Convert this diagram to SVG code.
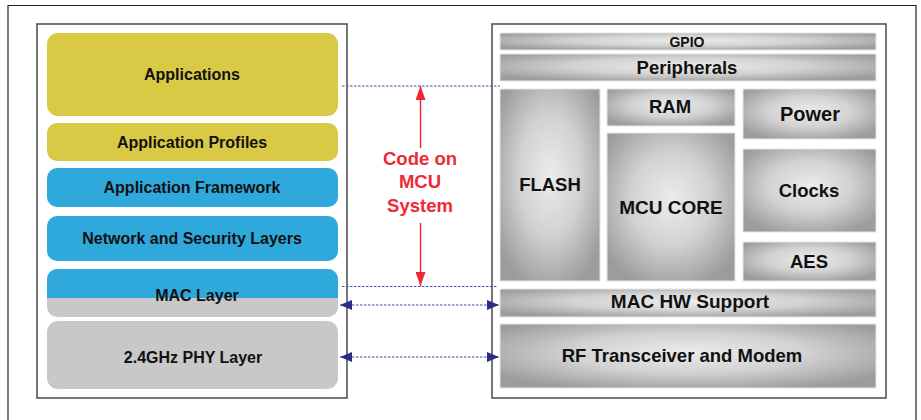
<svg xmlns="http://www.w3.org/2000/svg" width="921" height="420" viewBox="0 0 921 420">
<defs>
<radialGradient id="pillow" cx="0.5" cy="0.45" r="0.62">
<stop offset="0" stop-color="#ececec"/>
<stop offset="0.5" stop-color="#d2d2d2"/>
<stop offset="1" stop-color="#9c9c9c"/>
</radialGradient>
<marker id="navy" viewBox="0 0 12 10" refX="12" refY="5" markerWidth="12" markerHeight="10" markerUnits="userSpaceOnUse" orient="auto-start-reverse">
<path d="M0,0 L12,5 L0,10 Z" fill="#2b2b8a"/>
</marker>
<marker id="red" viewBox="0 0 14 10" refX="14" refY="5" markerWidth="14" markerHeight="10" markerUnits="userSpaceOnUse" orient="auto">
<path d="M0,0 L14,5 L0,10 Z" fill="#ee2a35"/>
</marker>
</defs>
<style>
.frame{fill:none;stroke:#222;stroke-width:1.2}
.box{fill:#fff;stroke:#555;stroke-width:1.6}
.yel{fill:#d9c945}
.blu{fill:#2fa9dc}
.gry{fill:#c8c8c8}
.hw{fill:url(#pillow);stroke:#e6e6e6;stroke-width:1}
.lt{font-family:"Liberation Sans",Arial,sans-serif;font-weight:bold;font-size:16px;fill:#111;text-anchor:middle}
.rt{font-family:"Liberation Sans",Arial,sans-serif;font-weight:bold;font-size:18.5px;fill:#111;text-anchor:middle}
.red{font-family:"Liberation Sans",Arial,sans-serif;font-weight:bold;font-size:18.5px;fill:#ee2a35;text-anchor:middle}
.dot{fill:none;stroke:#4a4a9e;stroke-width:1.2;stroke-dasharray:2.5 1.5}
.rl{fill:none;stroke:#ee2a35;stroke-width:1.5}
</style>
<rect width="921" height="420" fill="#fff"/>
<path class="frame" d="M8,420 V5.5 H916 V420"/>

<g id="stack">
<rect class="box" x="37" y="24" width="310" height="374"/>
<g id="applications"><rect class="yel" x="47" y="33" width="291" height="83" rx="11"/><text class="lt" x="192" y="79.5">Applications</text></g>
<g id="app-profiles"><rect class="yel" x="47" y="123" width="291" height="38" rx="10"/><text class="lt" x="192" y="147.5">Application Profiles</text></g>
<g id="app-framework"><rect class="blu" x="47" y="168" width="291" height="39" rx="10"/><text class="lt" x="192" y="192.5">Application Framework</text></g>
<g id="network"><rect class="blu" x="47" y="216" width="291" height="45" rx="10"/><text class="lt" x="192" y="243.5">Network and Security Layers</text></g>
<g id="mac-layer"><rect class="gry" x="47" y="269" width="291" height="48" rx="10"/><path class="blu" d="M47,298 V279 A10,10 0 0 1 57,269 H328 A10,10 0 0 1 338,279 V298 Z"/><text class="lt" x="197" y="300.5">MAC Layer</text></g>
<g id="phy-layer"><rect class="gry" x="47" y="321" width="291" height="68" rx="11"/><text class="lt" x="193" y="362.5">2.4GHz PHY Layer</text></g>
</g>

<g id="mcu">
<rect class="box" x="492" y="24" width="394" height="374"/>
<g id="gpio"><rect class="hw" x="500" y="33" width="376" height="17"/><text class="rt" style="font-size:14px" x="687" y="46.5">GPIO</text></g>
<g id="peripherals"><rect class="hw" x="500" y="54" width="376" height="27"/><text class="rt" x="687" y="74">Peripherals</text></g>
<g id="flash"><rect class="hw" x="500" y="89" width="100" height="192"/><text class="rt" x="550" y="190.5">FLASH</text></g>
<g id="ram"><rect class="hw" x="607" y="89" width="128" height="37"/><text class="rt" x="670" y="112.5">RAM</text></g>
<g id="mcu-core"><rect class="hw" x="607" y="133" width="128" height="148"/><text class="rt" style="font-size:19px" x="671" y="213.5">MCU CORE</text></g>
<g id="power"><rect class="hw" x="743" y="89" width="133" height="50"/><text class="rt" style="font-size:20px" x="810" y="121">Power</text></g>
<g id="clocks"><rect class="hw" x="743" y="149" width="133" height="83"/><text class="rt" x="809" y="197">Clocks</text></g>
<g id="aes"><rect class="hw" x="743" y="242" width="133" height="39"/><text class="rt" x="809" y="267.5">AES</text></g>
<g id="mac-hw"><rect class="hw" x="500" y="289" width="376" height="28"/><text class="rt" style="font-size:19px" x="690" y="308">MAC HW Support</text></g>
<g id="rf"><rect class="hw" x="500" y="324" width="376" height="64"/><text class="rt" x="682" y="361.5">RF Transceiver and Modem</text></g>
</g>

<g id="connectors">
<path class="dot" d="M342,86 H500"/>
<path class="dot" d="M342,286.5 H498"/>
<path class="dot" d="M340,305 H499" marker-start="url(#navy)" marker-end="url(#navy)"/>
<path class="dot" d="M340,357 H499" marker-start="url(#navy)" marker-end="url(#navy)"/>
<path class="rl" d="M420.5,148 V86" marker-end="url(#red)"/>
<path class="rl" d="M420.5,223 V286" marker-end="url(#red)"/>
</g>

<g id="label">
<text class="red" x="420" y="165">Code on</text>
<text class="red" x="420" y="188">MCU</text>
<text class="red" x="420" y="211.5">System</text>
</g>
</svg>
